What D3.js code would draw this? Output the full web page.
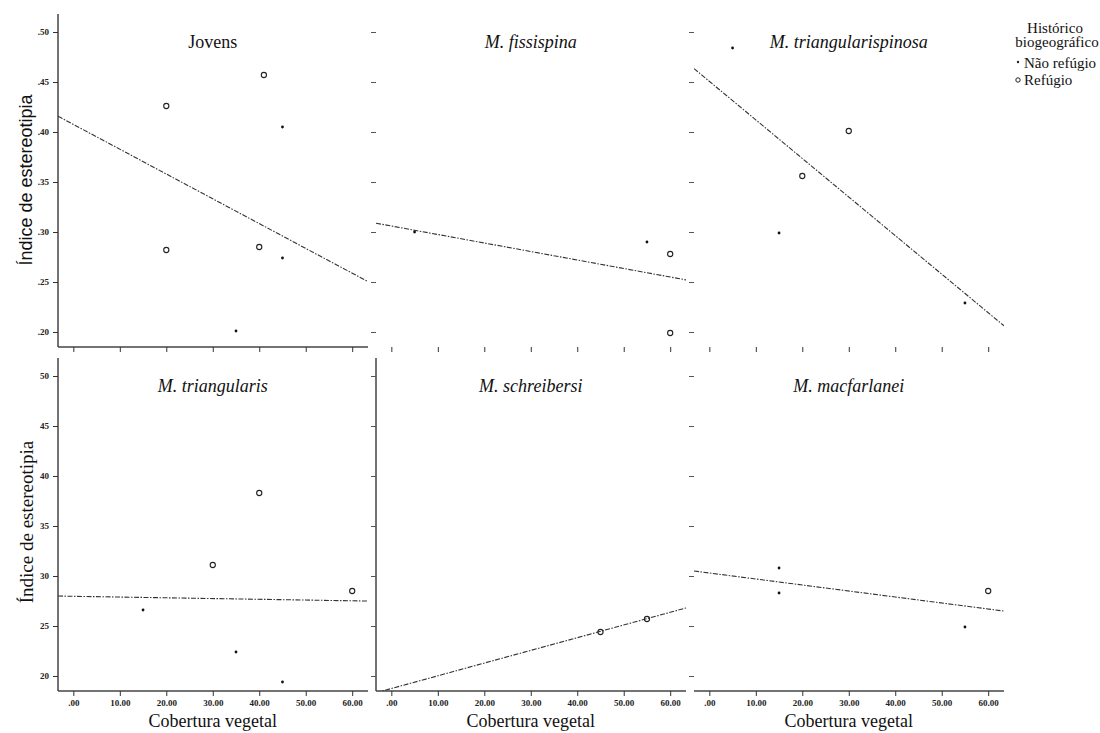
<!DOCTYPE html>
<html lang="pt">
<head>
  <meta charset="UTF-8" />
  <title>Índice de estereotipia x Cobertura vegetal</title>
  <script src="https://d3js.org/d3.v7.min.js"></script>
  <style>
    html, body { margin: 0; padding: 0; background: #fff; }
    svg { display: block; }
    .serif { font-family: "Liberation Serif", "Times New Roman", "DejaVu Serif", serif; }
    .sans { font-family: "Liberation Sans", Arial, sans-serif; }
    .tick text { font-family: "Liberation Serif", "Times New Roman", serif; font-weight: bold; font-size: 9px; fill: #222; }
  </style>
</head>
<body>
<svg width="1100" height="733"></svg>
<script>
// ---------------------------------------------------------
// Data
// ---------------------------------------------------------
const panelTitles = ["Jovens", "M. fissispina", "M. triangularispinosa",
                     "M. triangularis", "M. schreibersi", "M. macfarlanei"];
const titleItalic = [false, true, true, true, true, true];

const xTicks = [0, 10, 20, 30, 40, 50, 60];
const xTickLabels = [".00", "10.00", "20.00", "30.00", "40.00", "50.00", "60.00"];
const yTicks = [0.20, 0.25, 0.30, 0.35, 0.40, 0.45, 0.50];
const yTickLabelsTop = [".20", ".25", ".30", ".35", ".40", ".45", ".50"];
const yTickLabelsBottom = ["20", "25", "30", "35", "40", "45", "50"];

// cover (%), index, refuge (1 = Refúgio, 0 = Não refúgio)
const jovensCover  = [20, 41, 45, 20, 40, 45, 35];
const jovensIndex  = [0.426, 0.457, 0.405, 0.282, 0.285, 0.274, 0.201];
const jovensRefuge = [1, 1, 0, 1, 1, 0, 0];

const fissispinaCover  = [5, 55, 60, 60];
const fissispinaIndex  = [0.300, 0.290, 0.278, 0.199];
const fissispinaRefuge = [0, 0, 1, 1];

const triSpinosaCover  = [5, 30, 20, 15, 55];
const triSpinosaIndex  = [0.484, 0.401, 0.356, 0.299, 0.229];
const triSpinosaRefuge = [0, 1, 1, 0, 0];

const triangularisCover  = [40, 30, 60, 15, 35, 45];
const triangularisIndex  = [0.383, 0.311, 0.285, 0.266, 0.224, 0.194];
const triangularisRefuge = [1, 1, 1, 0, 0, 0];

const schreibersiCover  = [45, 55];
const schreibersiIndex  = [0.244, 0.257];
const schreibersiRefuge = [1, 1];

const macfarlaneiCover  = [15, 15, 60, 55];
const macfarlaneiIndex  = [0.308, 0.283, 0.285, 0.249];
const macfarlaneiRefuge = [0, 0, 1, 0];

// fitted lines: index = intercept + slope * cover
const fitIntercept = [0.4076, 0.306, 0.4507, 0.2797, 0.1875, 0.303];
const fitSlope     = [-0.00248, -0.00085, -0.003857, -0.000075, 0.00127, -0.0006];

const legendLabels = ["Não refúgio", "Refúgio"];

// ---------------------------------------------------------
// Layout
// ---------------------------------------------------------
const svg = d3.select("svg");
const panelW = 310, panelH = 333;
const colX = [58, 376, 694];
const rowY = [14, 358];

const x = d3.scaleLinear().domain([-3.3, 63.4]).range([0, panelW]);
const y = d3.scaleLinear().domain([0.185, 0.518]).range([panelH, 0]);

const covers  = [jovensCover, fissispinaCover, triSpinosaCover, triangularisCover, schreibersiCover, macfarlaneiCover];
const indices = [jovensIndex, fissispinaIndex, triSpinosaIndex, triangularisIndex, schreibersiIndex, macfarlaneiIndex];
const refuges = [jovensRefuge, fissispinaRefuge, triSpinosaRefuge, triangularisRefuge, schreibersiRefuge, macfarlaneiRefuge];

// which axis lines survive in the scan: [left, bottom]
const domainLines = [[true, true], [false, false], [false, false],
                     [true, true], [true, true], [false, true]];

const defs = svg.append("defs");

panelTitles.forEach((title, i) => {
  const row = Math.floor(i / 3), col = i % 3;
  const g = svg.append("g").attr("transform", `translate(${colX[col]},${rowY[row]})`);

  defs.append("clipPath").attr("id", "clip" + i)
    .append("rect").attr("width", panelW).attr("height", panelH);

  // y axis
  const yAxis = d3.axisLeft(y).tickValues(yTicks).tickSize(5).tickPadding(4)
    .tickFormat((d, k) => col === 0 ? (row === 0 ? yTickLabelsTop[k] : yTickLabelsBottom[k]) : "");
  const ya = g.append("g").call(yAxis);
  ya.selectAll("line").attr("stroke", col === 0 ? "#333" : "#555");
  ya.select(".domain").attr("stroke", "#444").attr("stroke-width", 1.5)
    .attr("d", `M0,0V${panelH}`)
    .style("display", domainLines[i][0] ? null : "none");

  // x axis
  const xAxis = d3.axisBottom(x).tickValues(xTicks).tickSize(5).tickPadding(4)
    .tickFormat((d, k) => row === 1 ? xTickLabels[k] : "");
  const xa = g.append("g").attr("transform", `translate(0,${panelH})`).call(xAxis);
  xa.selectAll("line").attr("stroke", "#333");
  xa.select(".domain").attr("stroke", "#444").attr("stroke-width", 1.5)
    .attr("d", `M0,0H${panelW}`)
    .style("display", domainLines[i][1] ? null : "none");

  // title
  g.append("text")
    .attr("class", "serif")
    .attr("x", x(30)).attr("y", 34)
    .attr("text-anchor", "middle")
    .attr("font-size", 18)
    .attr("font-style", titleItalic[i] ? "italic" : "normal")
    .attr("fill", "#111")
    .text(title);

  // fitted line
  const [d0, d1] = x.domain();
  g.append("line")
    .attr("clip-path", `url(#clip${i})`)
    .attr("x1", x(d0)).attr("y1", y(fitIntercept[i] + fitSlope[i] * d0))
    .attr("x2", x(d1)).attr("y2", y(fitIntercept[i] + fitSlope[i] * d1))
    .attr("stroke", "#333").attr("stroke-width", 1.1)
    .attr("stroke-dasharray", "5,1.5,1.5,1.5");

  // points
  const pts = covers[i].map((c, k) => ({ c, v: indices[i][k], r: refuges[i][k] }));
  g.selectAll("circle.ref").data(pts.filter(p => p.r === 1)).join("circle")
    .attr("cx", p => x(p.c)).attr("cy", p => y(p.v)).attr("r", 2.6)
    .attr("fill", "none").attr("stroke", "#222").attr("stroke-width", 1.1);
  g.selectAll("circle.nref").data(pts.filter(p => p.r === 0)).join("circle")
    .attr("cx", p => x(p.c)).attr("cy", p => y(p.v)).attr("r", 1.4)
    .attr("fill", "#111");

  // x axis title under bottom row
  if (row === 1) {
    g.append("text")
      .attr("class", "serif")
      .attr("x", x(30)).attr("y", panelH + 36)
      .attr("text-anchor", "middle")
      .attr("font-size", 18).attr("fill", "#111")
      .text("Cobertura vegetal");
  }
});

// y axis titles (top one sans, bottom one serif, as in the scan)
svg.append("text")
  .attr("class", "sans")
  .attr("transform", "translate(32,180) rotate(-90)")
  .attr("text-anchor", "middle")
  .attr("font-size", 18).attr("fill", "#111")
  .text("Índice de estereotipia");
svg.append("text")
  .attr("class", "serif")
  .attr("transform", "translate(33,522) rotate(-90)")
  .attr("text-anchor", "middle")
  .attr("font-size", 19).attr("fill", "#111")
  .text("Índice de estereotipia");

// legend
const lg = svg.append("g").attr("class", "serif").attr("fill", "#111");
lg.append("text").attr("x", 1055).attr("y", 33).attr("text-anchor", "middle").attr("font-size", 15).text("Histórico");
lg.append("text").attr("x", 1057).attr("y", 47).attr("text-anchor", "middle").attr("font-size", 15).text("biogeográfico");
legendLabels.forEach((lab, k) => {
  const yy = 63 + k * 17;
  if (k === 0) {
    lg.append("circle").attr("cx", 1018).attr("cy", yy - 1).attr("r", 1.2).attr("fill", "#222");
  } else {
    lg.append("circle").attr("cx", 1018).attr("cy", yy).attr("r", 2.2)
      .attr("fill", "none").attr("stroke", "#222").attr("stroke-width", 1);
  }
  lg.append("text").attr("x", 1024).attr("y", yy + 5).attr("font-size", 15).text(lab);
});
</script>
</body>
</html>
